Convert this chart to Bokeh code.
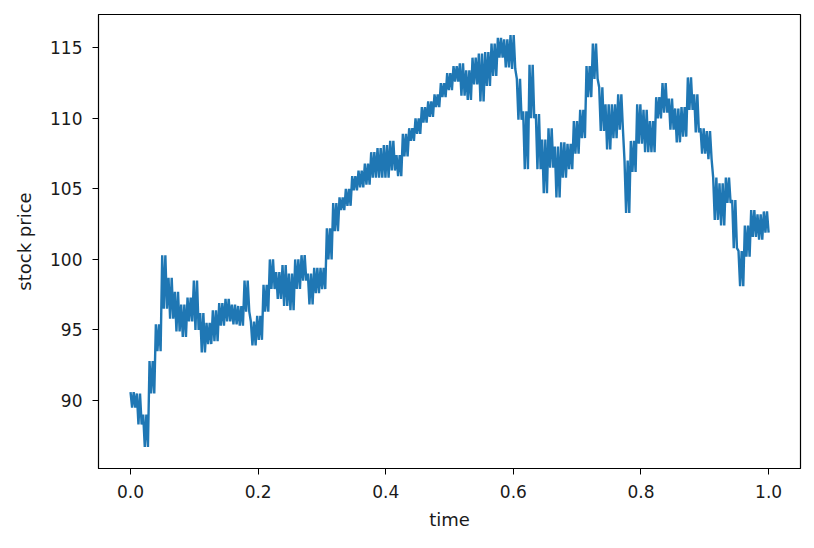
import numpy as np
from bokeh.plotting import figure
from bokeh.models import Range1d, FixedTicker, PrintfTickFormatter
from bokeh.embed import file_html
from bokeh.resources import INLINE

# Envelope (high / low) of the simulated stock price read at time steps of 0.01 (0.00 .. 1.00)
price_high = [90.6, 90.5, 89.0, 92.8, 95.4, 100.3, 98.7, 97.7, 96.8, 97.3,
              98.5, 96.2, 95.5, 96.4, 96.9, 97.2, 96.8, 96.7, 98.5, 95.6,
              96.0, 98.2, 100.0, 99.1, 99.6, 99.0, 100.0, 100.3, 99.0, 99.4,
              99.4, 102.2, 104.0, 104.4, 105.0, 105.9, 106.3, 106.8, 107.6, 107.9,
              108.1, 108.4, 107.4, 108.9, 109.3, 110.0, 110.8, 111.2, 111.7, 112.5,
              113.2, 113.7, 113.9, 113.4, 114.3, 114.6, 114.7, 115.3, 115.7, 115.6,
              115.9, 112.8, 110.5, 113.8, 110.3, 108.5, 109.3, 108.0, 108.3, 108.2,
              109.8, 110.6, 113.7, 115.3, 112.2, 111.0, 111.0, 111.7, 107.0, 108.4,
              111.0, 110.6, 109.8, 111.5, 112.5, 111.4, 110.7, 110.8, 112.9, 111.7,
              109.3, 109.1, 105.8, 105.4, 105.8, 104.2, 100.6, 102.4, 103.5, 103.2,
              103.4]
price_low = [89.5, 88.3, 86.7, 90.5, 93.5, 96.5, 95.8, 94.9, 94.5, 95.6,
             95.0, 93.4, 94.0, 94.2, 95.3, 95.6, 95.4, 95.3, 96.3, 93.9,
             94.3, 96.3, 97.9, 97.2, 96.7, 96.4, 97.9, 98.5, 96.8, 97.6,
             97.9, 100.0, 102.0, 103.5, 103.8, 104.9, 105.1, 105.3, 105.8, 105.8,
             105.8, 106.3, 105.9, 107.3, 108.4, 108.9, 109.7, 110.1, 110.8, 111.5,
             112.0, 112.6, 111.6, 111.3, 112.4, 111.2, 112.3, 113.0, 114.3, 113.6,
             113.5, 109.9, 106.4, 110.0, 106.4, 104.7, 106.5, 104.4, 105.8, 106.4,
             107.5, 108.6, 111.5, 112.8, 109.1, 107.8, 108.6, 109.2, 103.3, 106.2,
             108.2, 107.6, 107.6, 110.0, 110.4, 109.2, 108.3, 108.7, 110.6, 109.0,
             107.5, 107.1, 102.8, 102.4, 104.0, 100.8, 98.1, 100.2, 101.6, 101.4,
             101.9]

# the path swings between the read high and low of each step (dense noisy band)
price = []
for h, l in zip(price_high, price_low):
    price.extend([h, l, h, l])
time = np.linspace(0.0, 1.0, len(price))

x_ticks = [0.0, 0.2, 0.4, 0.6, 0.8, 1.0]
y_ticks = [90, 95, 100, 105, 110, 115]

p = figure(width=806, height=540, output_backend="svg", toolbar_location=None,
           x_range=Range1d(-0.0502, 1.050), y_range=Range1d(85.18, 117.36))
p.min_border_left = 98
p.min_border_right = 6
p.min_border_top = 14
p.min_border_bottom = 72

p.line(time, price, line_color="#1f77b4", line_width=2.4)

p.xgrid.visible = False
p.ygrid.visible = False
p.outline_line_color = "black"
p.outline_line_width = 1.2
p.outline_line_alpha = 1.0

for ax in (p.xaxis[0], p.yaxis[0]):
    ax.axis_line_color = "black"
    ax.major_tick_in = 0
    ax.major_tick_out = 6
    ax.major_tick_line_color = "black"
    ax.minor_tick_line_color = None
    ax.major_label_text_font = "DejaVu Sans"
    ax.major_label_text_font_size = "17px"
    ax.major_label_text_color = "#1a1a1a"
    ax.axis_label_text_font = "DejaVu Sans"
    ax.axis_label_text_font_size = "18px"
    ax.axis_label_text_font_style = "normal"
    ax.axis_label_text_color = "#1a1a1a"

p.xaxis.ticker = FixedTicker(ticks=x_ticks)
p.xaxis.formatter = PrintfTickFormatter(format="%.1f")
p.yaxis.ticker = FixedTicker(ticks=y_ticks)
p.xaxis.axis_label = "time"
p.yaxis.axis_label = "stock price"
p.xaxis.major_label_standoff = 10
p.yaxis.major_label_standoff = 10
p.xaxis.axis_label_standoff = 8
p.yaxis.axis_label_standoff = 12

open("out.html", "w").write(file_html(p, INLINE))
